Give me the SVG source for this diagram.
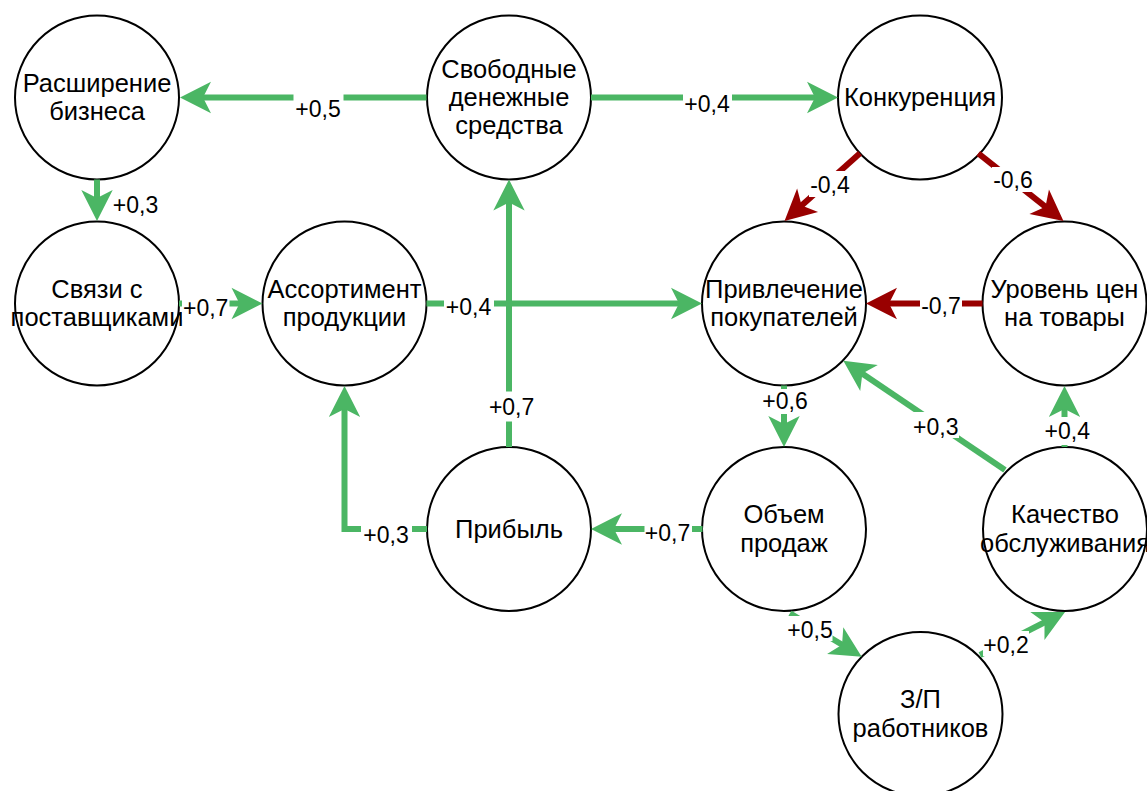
<svg xmlns="http://www.w3.org/2000/svg" width="1147" height="791" viewBox="0 0 1147 791">
<style>
.node{fill:#ffffff;stroke:#000000;stroke-width:2}
.nt{font-family:"Liberation Sans",Arial,sans-serif;font-size:25.5px;fill:#000000;text-anchor:middle}
.lt{font-family:"Liberation Sans",Arial,sans-serif;font-size:23px;fill:#000000;text-anchor:middle}
.lb{fill:#ffffff;stroke:none}
.g{fill:none;stroke:#4BB664;stroke-width:6;marker-end:url(#ag)}
.r{fill:none;stroke:#990000;stroke-width:6;marker-end:url(#ar)}
</style>
<defs>
<marker id="ag" viewBox="-12 -17 33 34" markerWidth="33" markerHeight="34" refX="0" refY="0" orient="auto" markerUnits="userSpaceOnUse"><path d="M20,0 L-11,-15.7 L-3,0 L-11,15.7 Z" fill="#4BB664"/></marker>
<marker id="ar" viewBox="-12 -17 33 34" markerWidth="33" markerHeight="34" refX="0" refY="0" orient="auto" markerUnits="userSpaceOnUse"><path d="M20,0 L-11,-15.7 L-3,0 L-11,15.7 Z" fill="#990000"/></marker>
</defs>
<rect x="0" y="0" width="1147" height="791" fill="#ffffff"/>
<g id="n-rasshirenie"><circle class="node" cx="97" cy="97.5" r="82"/><text class="nt" x="97" y="91.8">Расширение</text><text class="nt" x="97" y="120.2">бизнеса</text></g>
<g id="n-svobodnye"><circle class="node" cx="509" cy="97.5" r="82"/><text class="nt" x="509" y="77.6">Свободные</text><text class="nt" x="509" y="106">денежные</text><text class="nt" x="509" y="134.4">средства</text></g>
<g id="n-konkurenciya"><circle class="node" cx="920" cy="97.5" r="82"/><text class="nt" x="920" y="106.3">Конкуренция</text></g>
<g id="n-svyazi"><circle class="node" cx="97" cy="303.5" r="82"/><text class="nt" x="97" y="297.8">Связи с</text><text class="nt" x="97" y="326.2">поставщиками</text></g>
<g id="n-assortiment"><circle class="node" cx="344.5" cy="303.5" r="82"/><text class="nt" x="344.5" y="297.8">Ассортимент</text><text class="nt" x="344.5" y="326.2">продукции</text></g>
<g id="n-privlechenie"><circle class="node" cx="784" cy="303.5" r="82"/><text class="nt" x="784" y="297.8">Привлечение</text><text class="nt" x="784" y="326.2">покупателей</text></g>
<g id="n-uroven"><circle class="node" cx="1064.5" cy="303.5" r="82"/><text class="nt" x="1064.5" y="297.8">Уровень цен</text><text class="nt" x="1064.5" y="326.2">на товары</text></g>
<g id="n-pribyl"><circle class="node" cx="509" cy="529" r="82"/><text class="nt" x="509" y="537.8">Прибыль</text></g>
<g id="n-obem"><circle class="node" cx="784" cy="529" r="82"/><text class="nt" x="784" y="523.3">Объем</text><text class="nt" x="784" y="551.7">продаж</text></g>
<g id="n-kachestvo"><circle class="node" cx="1065" cy="529" r="82"/><text class="nt" x="1065" y="523.3">Качество</text><text class="nt" x="1065" y="551.7">обслуживания</text></g>
<g id="n-zp"><circle class="node" cx="920.5" cy="714" r="82"/><text class="nt" x="920.5" y="708.3">З/П</text><text class="nt" x="920.5" y="736.7">работников</text></g>
<g id="connectors">
<path class="g" d="M426.5,97.5 L200,97.5"/>
<path class="g" d="M591,97.5 L818,97.5"/>
<path class="g" d="M97,179.5 L97,201"/>
<path class="g" d="M179,303.5 L242.5,303.5"/>
<path class="g" d="M426.5,303.5 L682,303.5"/>
<path class="g" d="M509,447 L509,199.5"/>
<path class="g" d="M427,529 L344.5,529 L344.5,406"/>
<path class="g" d="M702.5,529 L611,529"/>
<path class="g" d="M784,385.5 L784,427"/>
<path class="r" d="M860,153.3 L799.4,207.6"/>
<path class="r" d="M978.3,153.3 L1047.8,208.6"/>
<path class="r" d="M982.5,303.5 L886,303.5"/>
<path class="g" d="M1005,470 L859.9,371.9"/>
<path class="g" d="M1064.5,447 L1064.5,406"/>
<path class="g" d="M790,613.3 L844.6,646.3"/>
<path class="g" d="M980,655 L1047.2,621"/>
<g id="labels">
<rect class="lb" x="293.5" y="92" width="50" height="29"/><text class="lt" x="318" y="116.5">+0,5</text>
<rect class="lb" x="683" y="88" width="49" height="28"/><text class="lt" x="707" y="111.5">+0,4</text>
<text class="lt" x="135.5" y="213">+0,3</text>
<rect class="lb" x="182" y="293" width="47.5" height="27"/><text class="lt" x="205.7" y="316">+0,7</text>
<rect class="lb" x="444" y="292" width="50" height="27"/><text class="lt" x="468.5" y="315">+0,4</text>
<rect class="lb" x="488" y="391.5" width="47" height="30"/><text class="lt" x="511.6" y="415">+0,7</text>
<rect class="lb" x="361" y="519" width="51" height="28"/><text class="lt" x="386" y="543">+0,3</text>
<rect class="lb" x="644.5" y="518" width="47.5" height="27"/><text class="lt" x="667.5" y="541">+0,7</text>
<rect class="lb" x="761" y="389" width="48" height="25"/><text class="lt" x="785" y="409">+0,6</text>
<rect class="lb" x="809" y="171" width="42" height="26"/><text class="lt" x="830" y="193">-0,4</text>
<rect class="lb" x="992" y="167" width="42" height="25"/><text class="lt" x="1013" y="188">-0,6</text>
<rect class="lb" x="920" y="292" width="42" height="27"/><text class="lt" x="941" y="313.5">-0,7</text>
<rect class="lb" x="913" y="412" width="46" height="26"/><text class="lt" x="935.8" y="435">+0,3</text>
<rect class="lb" x="1044" y="417" width="47" height="28"/><text class="lt" x="1067.3" y="439">+0,4</text>
<rect class="lb" x="786.5" y="616" width="46" height="25"/><text class="lt" x="810" y="637.5">+0,5</text>
<rect class="lb" x="983" y="631" width="46" height="25"/><text class="lt" x="1006" y="653">+0,2</text>
</g>
</g>
</svg>
